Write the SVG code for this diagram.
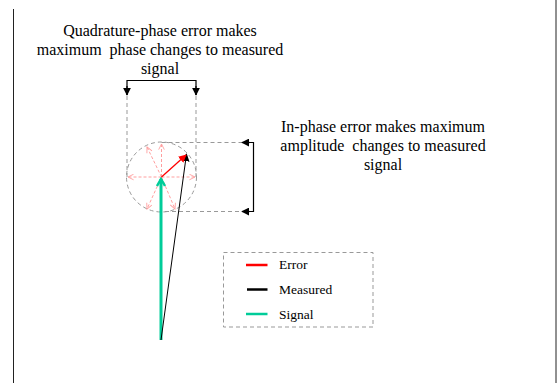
<svg xmlns="http://www.w3.org/2000/svg" width="557" height="383" viewBox="0 0 557 383">
<style>
.t{font-family:"Liberation Serif","Times New Roman",serif;font-size:16px;fill:#000;text-anchor:middle}
.lg{font-family:"Liberation Serif","Times New Roman",serif;font-size:13.5px;fill:#000}
.gd{stroke:#999;stroke-width:1;stroke-dasharray:4 3;fill:none}
.pk{stroke:#ff9f9f;stroke-width:1;stroke-dasharray:3 2;fill:none}
.bk{stroke:#000;stroke-width:1.2;fill:none}
</style>
<defs>
<marker id="tri" viewBox="0 0 10 10" refX="9" refY="5" markerWidth="8" markerHeight="8" markerUnits="userSpaceOnUse" orient="auto"><path d="M0,0 L10,5 L0,10 z" fill="#000"/></marker>
<marker id="triR" viewBox="0 0 10 10" refX="9" refY="5" markerWidth="8" markerHeight="8" markerUnits="userSpaceOnUse" orient="auto"><path d="M0,0 L10,5 L0,10 z" fill="#ff0000"/></marker>
<marker id="chevP" viewBox="0 0 10 10" refX="9" refY="5" markerWidth="7" markerHeight="7" markerUnits="userSpaceOnUse" orient="auto"><path d="M1,1 L9,5 L1,9" fill="none" stroke="#ff9f9f" stroke-width="1.3"/></marker>
<marker id="chevG" viewBox="0 0 10 10" refX="8" refY="5" markerWidth="10" markerHeight="12" markerUnits="userSpaceOnUse" orient="auto"><path d="M1,1 L8,5 L1,9" fill="none" stroke="#00cc99" stroke-width="2.5"/></marker>
</defs>
<g id="frame">
<line x1="13.5" y1="9" x2="13.5" y2="383" stroke="#222" stroke-width="1"/>
<line x1="556" y1="0" x2="556" y2="383" stroke="#222" stroke-width="1"/>
</g>
<g id="label-quadrature">
<text class="t" x="160" y="36">Quadrature-phase error makes</text>
<text class="t" x="160" y="55" xml:space="preserve">maximum  phase changes to measured</text>
<text class="t" x="160" y="74">signal</text>
</g>
<g id="label-inphase">
<text class="t" x="383" y="132">In-phase error makes maximum</text>
<text class="t" x="383" y="151" xml:space="preserve">amplitude  changes to measured</text>
<text class="t" x="383" y="170">signal</text>
</g>
<g id="circle">
<circle cx="161.5" cy="177" r="35" class="gd"/>
</g>
<g id="connectors">
<!-- guide lines -->
<line x1="127" y1="96" x2="127" y2="177" class="gd"/>
<line x1="196" y1="96" x2="196" y2="177" class="gd"/>
<line x1="161.5" y1="142.5" x2="243" y2="142.5" class="gd"/>
<line x1="165" y1="211.5" x2="243" y2="211.5" class="gd"/>
<!-- quadrature bracket -->
<polyline points="127,95 127,80.5 196,80.5 196,95" class="bk" stroke-width="1"/>
<line x1="127" y1="86" x2="127" y2="95" class="bk" marker-end="url(#tri)"/>
<line x1="196" y1="86" x2="196" y2="95" class="bk" marker-end="url(#tri)"/>
<!-- in-phase bracket -->
<polyline points="243,142.5 253.5,142.5 253.5,211.5 243,211.5" class="bk" stroke-width="1"/>
<line x1="250" y1="142.5" x2="242" y2="142.5" class="bk" marker-end="url(#tri)"/>
<line x1="250" y1="211.5" x2="242" y2="211.5" class="bk" marker-end="url(#tri)"/>
<!-- pink error directions -->
<line x1="161.5" y1="177" x2="161.5" y2="144" class="pk" marker-end="url(#chevP)"/>
<line x1="161.5" y1="177" x2="128" y2="177" class="pk" marker-end="url(#chevP)"/>
<line x1="161.5" y1="177" x2="195" y2="177" class="pk" marker-end="url(#chevP)"/>
<line x1="161.5" y1="177" x2="147" y2="147" class="pk" marker-end="url(#chevP)"/>
<line x1="161.5" y1="177" x2="147" y2="209" class="pk" marker-end="url(#chevP)"/>
<line x1="161.5" y1="177" x2="175" y2="209" class="pk" marker-end="url(#chevP)"/>
<!-- signal -->
<line x1="161" y1="340" x2="161" y2="179" stroke="#00cc99" stroke-width="3" marker-end="url(#chevG)"/>
<!-- measured -->
<line x1="161" y1="340" x2="186.5" y2="154" stroke="#000" stroke-width="1" marker-end="url(#tri)"/>
<!-- error -->
<line x1="161.5" y1="177" x2="186" y2="155" stroke="#ff0000" stroke-width="1.3" marker-end="url(#triR)"/>
</g>
<g id="legend">
<rect x="223.5" y="252.5" width="149.5" height="74.5" class="gd"/>
<line x1="246" y1="265" x2="267.5" y2="265" stroke="#ff0000" stroke-width="2.5"/>
<line x1="247" y1="289.5" x2="267.5" y2="289.5" stroke="#000" stroke-width="2.5"/>
<line x1="246" y1="314" x2="267.5" y2="314" stroke="#00cc99" stroke-width="2.5"/>
<text class="lg" x="279" y="269">Error</text>
<text class="lg" x="279" y="294">Measured</text>
<text class="lg" x="279" y="319">Signal</text>
</g>
</svg>
